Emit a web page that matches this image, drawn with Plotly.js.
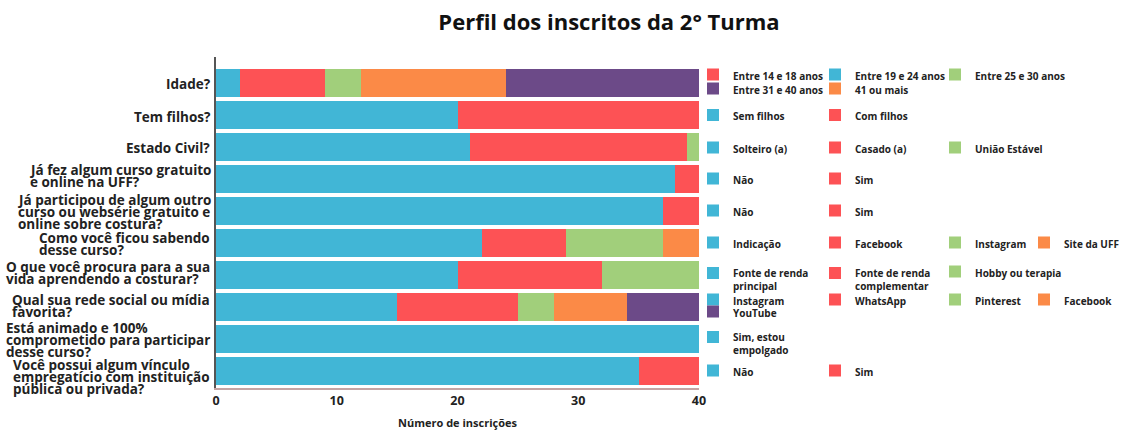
<!DOCTYPE html>
<html>
<head>
<meta charset="utf-8">
<script src="https://cdn.plot.ly/plotly-3.0.1.min.js"></script>
<style>
  html, body { margin: 0; padding: 0; background: #fff; }
  #chart { width: 1126px; height: 433px; }
</style>
</head>
<body>
<div id="chart"></div>
<script>
// ---------------- DATA ----------------
const questions = [
  'Idade?',
  'Tem filhos?',
  'Estado Civil?',
  'Já fez algum curso gratuito<br>e online na UFF?',
  'Já participou de algum outro<br>curso ou websérie gratuito e<br>online sobre costura?',
  'Como você ficou sabendo<br>desse curso?',
  'O que você procura para a sua<br>vida aprendendo a costurar?',
  'Qual sua rede social ou mídia<br>favorita?',
  'Está animado e 100%<br>comprometido para participar<br>desse curso?',
  'Você possui algum vínculo<br>empregatício com instituição<br>pública ou privada?'
];

// series per question, in stacking order (left to right)
const idadeLabels    = ['Entre 19 e 24 anos', 'Entre 14 e 18 anos', 'Entre 25 e 30 anos', '41 ou mais', 'Entre 31 e 40 anos'];
const idadeValues    = [2, 7, 3, 12, 16];
const filhosLabels   = ['Sem filhos', 'Com filhos'];
const filhosValues   = [20, 20];
const civilLabels    = ['Solteiro (a)', 'Casado (a)', 'União Estável'];
const civilValues    = [21, 18, 1];
const uffLabels      = ['Não', 'Sim'];
const uffValues      = [38, 2];
const outroLabels    = ['Não', 'Sim'];
const outroValues    = [37, 3];
const sabendoLabels  = ['Indicação', 'Facebook', 'Instagram', 'Site da UFF'];
const sabendoValues  = [22, 7, 8, 3];
const procuraLabels  = ['Fonte de renda<br>principal', 'Fonte de renda<br>complementar', 'Hobby ou terapia'];
const procuraValues  = [20, 12, 8];
const redeLabels     = ['Instagram', 'WhatsApp', 'Pinterest', 'Facebook', 'YouTube'];
const redeValues     = [15, 10, 3, 6, 6];
const animadoLabels  = ['Sim, estou<br>empolgado'];
const animadoValues  = [40];
const vinculoLabels  = ['Não', 'Sim'];
const vinculoValues  = [35, 5];

const xTickValues = [0, 10, 20, 30, 40];

// ---------------- STYLE / LAYOUT ----------------
const palette = ['#41b6d6', '#fd5255', '#a1cf7b', '#fb8a47', '#6c4a88'];
const FONT = "'Open Sans', 'DejaVu Sans', sans-serif";
const W = 1126, H = 433;
const M = { l: 216, r: 427, t: 57, b: 45 };
const plotW = W - M.l - M.r, plotH = H - M.t - M.b;

const seriesLabels = [idadeLabels, filhosLabels, civilLabels, uffLabels, outroLabels,
                      sabendoLabels, procuraLabels, redeLabels, animadoLabels, vinculoLabels];
const seriesValues = [idadeValues, filhosValues, civilValues, uffValues, outroValues,
                      sabendoValues, procuraValues, redeValues, animadoValues, vinculoValues];

// legend slot positions [column, line] per item (layout only)
const legendSlots = [
  [[1,0],[0,0],[2,0],[1,1],[0,1]],
  null, null, null, null, null, null,
  [[0,0],[1,0],[2,0],[3,0],[0,1]],
  null, null
];
const legendColX = [733, 855, 975, 1064];               // text start, px
const legendLineY = [[76, 90], [116.5], [149], [180], [212], [244], [273], [301, 313], [337], [372]];
const TEXT_OFF = 40;
const LEG_SIZE = 10;
const LEG_LINE = LEG_SIZE * 1.3;

// per-label vertical nudge (px, + = down) and line spacing for the question labels
const labelNudge = [1.3, 1.7, 1.3, -3, 0.7, 1, -2.3, -1, 1, 6];
const LABEL_GAP = 6, LINE_H = 12, LABEL_SIZE = 13.5;

const traces = [];
const layout = {
  width: W, height: H,
  margin: { l: M.l, r: M.r, t: M.t, b: M.b, autoexpand: false },
  paper_bgcolor: '#fff', plot_bgcolor: '#fff',
  barmode: 'stack', bargap: 0.11,
  font: { family: FONT, color: '#222' },
  title: {
    text: 'Perfil dos inscritos da 2° Turma',
    font: { family: FONT, size: 22, weight: 'bold', color: '#111' },
    xref: 'container', x: 609 / W, xanchor: 'center',
    yref: 'container', y: 1 - 22 / H, yanchor: 'middle'
  },
  xaxis: {
    range: [0, 40], tickvals: xTickValues, ticktext: xTickValues.map(String),
    showgrid: false, zeroline: false, ticks: '',
    showline: true, linecolor: '#c4a4a4', linewidth: 1.5,
    tickfont: { family: FONT, size: 12.5, weight: 'bold', color: '#222' },
    title: { text: 'Número de inscrições', standoff: 12,
             font: { family: FONT, size: 11, weight: 'bold', color: '#222' } },
    fixedrange: true
  },
  yaxis: {
    type: 'category', categoryorder: 'array', categoryarray: questions,
    range: [9.53, -0.81], autorange: false,
    showticklabels: false, showgrid: false, zeroline: false, ticks: '',
    showline: true, linecolor: '#555', linewidth: 1.5,
    fixedrange: true
  },
  showlegend: true,
  annotations: []
};

let legendCount = 0;
seriesLabels.forEach((labels, qi) => {
  labels.forEach((lab, k) => {
    legendCount += 1;
    const lname = legendCount === 1 ? 'legend' : 'legend' + legendCount;
    traces.push({
      type: 'bar', orientation: 'h',
      name: lab,
      x: [seriesValues[qi][k]],
      y: [questions[qi]],
      marker: { color: palette[k] },
      legend: lname,
      showlegend: true,
      hovertemplate: lab.replace(/<br>/g, ' ') + ': %{x}<extra></extra>'
    });
    const slot = legendSlots[qi] ? legendSlots[qi][k] : [k, 0];
    const nLines = lab.split('<br>').length;
    const firstY = legendLineY[qi][slot[1]];
    const cy = firstY + (nLines - 1) * LEG_LINE / 2;
    layout[lname] = {
      x: (legendColX[slot[0]] - TEXT_OFF - M.l) / plotW, xanchor: 'left',
      y: 1 - (cy - M.t) / plotH, yanchor: 'middle',
      orientation: 'v', valign: 'top',
      bgcolor: 'rgba(0,0,0,0)', borderwidth: 0,
      font: { family: FONT, size: LEG_SIZE, weight: 'bold', color: '#222' },
      itemclick: false, itemdoubleclick: false
    };
  });
});

// y labels: left-aligned line blocks, right edge near the axis
const cv = document.createElement('canvas').getContext('2d');
cv.font = "bold " + LABEL_SIZE + "px 'Open Sans'";
questions.forEach((q, qi) => {
  const lines = q.split('<br>');
  const blockW = Math.max(...lines.map(s => cv.measureText(s).width));
  lines.forEach((s, k) => {
    layout.annotations.push({
      xref: 'paper', x: 0, xanchor: 'left', xshift: -(LABEL_GAP + blockW + 2),
      yref: 'y', y: q, yanchor: 'middle',
      yshift: ((lines.length - 1) / 2 - k) * LINE_H - labelNudge[qi],
      text: s, showarrow: false, align: 'left',
      font: { family: FONT, size: LABEL_SIZE, weight: 'bold', color: '#222' }
    });
  });
});

Plotly.newPlot('chart', traces, layout, { displayModeBar: false });
</script>
</body>
</html>
